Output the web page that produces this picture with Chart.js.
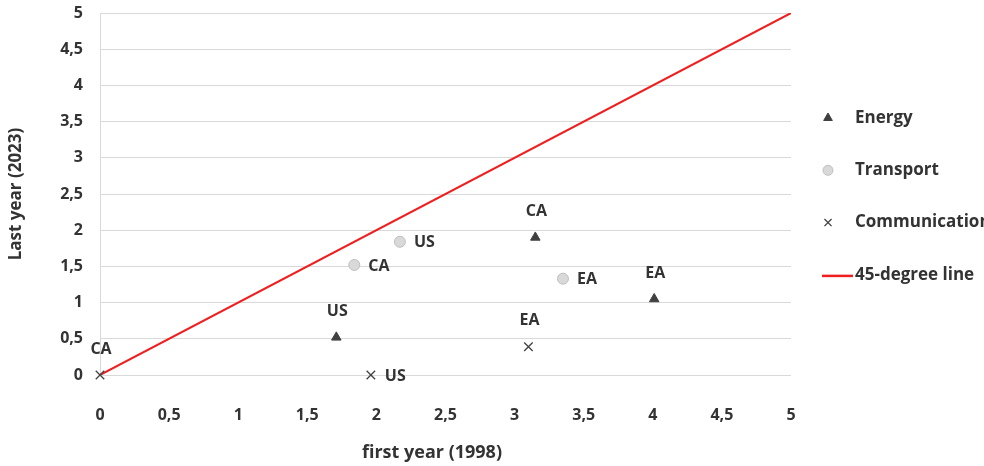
<!DOCTYPE html>
<html lang="en">
<head>
  <meta charset="UTF-8">
  <title>First vs last year</title>
  <script src="https://cdn.jsdelivr.net/npm/chart.js"></script>
  <style>
    body { margin: 0; padding: 0; background: #fff; }
    #wrap { width: 984px; height: 466px; }
  </style>
</head>
<body>
<div id="wrap"><canvas id="scatter"></canvas></div>
<script>
  // data: [first year 1998, last year 2023]
  const regions = ['US', 'CA', 'EA'];
  const energyX = [1.71, 3.15, 4.01];
  const energyY = [0.52, 1.9, 1.05];
  const transportX = [2.17, 1.84, 3.35];
  const transportY = [1.84, 1.52, 1.33];
  const commX = [1.96, 0, 3.1];
  const commY = [0, 0, 0.39];
  const lineX = [0, 5];
  const lineY = [0, 5];
  const axisTicks = [0, 0.5, 1, 1.5, 2, 2.5, 3, 3.5, 4, 4.5, 5];
  const xTitle = 'first year (1998)';

  const FONT = "'Open Sans', sans-serif";
  const TEXT = '#333333';

  function pts(xs, ys) {
    return xs.map((x, i) => ({ x: x, y: ys[i] }));
  }
  function comma(v) {
    return String(v).replace('.', ',');
  }

  // labels next to each marker ('above' or 'right')
  const pointLabels = {
    id: 'pointLabels',
    afterDatasetsDraw(chart) {
      const ctx = chart.ctx;
      ctx.save();
      ctx.font = 'bold 16px ' + FONT;
      ctx.fillStyle = TEXT;
      ctx.textBaseline = 'middle';
      chart.data.datasets.forEach((ds, di) => {
        if (!ds.labelPos) return;
        chart.getDatasetMeta(di).data.forEach((el, i) => {
          const pos = ds.labelPos[i];
          if (pos === 'above') {
            ctx.textAlign = 'center';
            ctx.fillText(regions[i], el.x + 1, el.y - 26);
          } else {
            ctx.textAlign = 'left';
            ctx.fillText(regions[i], el.x + 14, el.y + 1);
          }
        });
      });
      ctx.restore();
    }
  };

  // legend on the right, drawn by hand so the long label can run off the edge
  // (the x title is drawn here too; in the original it sits left of centre)
  const sideLegend = {
    id: 'sideLegend',
    afterDraw(chart) {
      const ctx = chart.ctx;
      const area = chart.chartArea;
      const mx = area.right + 37;
      const tx = area.right + 64;
      const gap = 52.3;
      const y0 = 118;
      ctx.save();
      ctx.font = 'bold 17px ' + FONT;
      ctx.textBaseline = 'middle';
      ctx.textAlign = 'left';
      chart.data.datasets.forEach((ds, i) => {
        const y = y0 + i * gap;
        if (ds.type === 'line') {
          ctx.strokeStyle = ds.borderColor;
          ctx.lineWidth = 2.5;
          ctx.beginPath();
          ctx.moveTo(mx - 6, y + 1);
          ctx.lineTo(tx - 2, y + 1);
          ctx.stroke();
        } else {
          ctx.fillStyle = ds.backgroundColor;
          ctx.strokeStyle = ds.borderColor;
          ctx.lineWidth = ds.borderWidth;
          Chart.helpers.drawPoint(ctx, {
            pointStyle: ds.pointStyle,
            radius: 5,
            borderWidth: ds.borderWidth,
            rotation: 0
          }, mx, y);
        }
        ctx.fillStyle = TEXT;
        ctx.fillText(ds.label, tx, y);
      });

      ctx.font = 'bold 18px ' + FONT;
      ctx.textAlign = 'center';
      ctx.fillText(xTitle, area.left + 332, 453);
      ctx.restore();
    }
  };

  new Chart(document.getElementById('scatter'), {
    type: 'scatter',
    data: {
      datasets: [
        {
          label: 'Energy', data: pts(energyX, energyY),
          pointStyle: 'triangle', pointRadius: 5.5,
          backgroundColor: '#404040', borderColor: '#404040', borderWidth: 1,
          clip: false,
          labelPos: ['above', 'above', 'above']
        },
        {
          label: 'Transport', data: pts(transportX, transportY),
          pointStyle: 'circle', pointRadius: 5.5,
          backgroundColor: '#d9d9d9', borderColor: '#bfbfbf', borderWidth: 1,
          clip: false,
          labelPos: ['right', 'right', 'right']
        },
        {
          label: 'Communication', data: pts(commX, commY),
          pointStyle: 'crossRot', pointRadius: 6,
          backgroundColor: '#404040', borderColor: '#404040', borderWidth: 1.3,
          clip: false,
          labelPos: ['right', 'above', 'above']
        },
        {
          type: 'line', label: '45-degree line', data: pts(lineX, lineY),
          borderColor: '#f01e1e', borderWidth: 2, pointRadius: 0, fill: false
        }
      ]
    },
    options: {
      responsive: true,
      maintainAspectRatio: false,
      animation: false,
      layout: { padding: { top: 13, right: 193, left: 0, bottom: 0 } },
      plugins: {
        legend: { display: false },
        tooltip: { enabled: false }
      },
      scales: {
        x: {
          type: 'linear', min: 0, max: 5,
          afterBuildTicks: s => { s.ticks = axisTicks.map(v => ({ value: v })); },
          afterFit: s => { s.height = 91; s.paddingLeft = 0; s.paddingRight = 0; },
          grid: { display: false },
          border: { display: false },
          ticks: {
            padding: 23, color: TEXT,
            font: { family: FONT, size: 16, weight: 'bold' },
            callback: v => comma(v)
          }
        },
        y: {
          type: 'linear', min: 0, max: 5,
          afterBuildTicks: s => { s.ticks = axisTicks.map(v => ({ value: v })); },
          afterFit: s => { s.width = 100; s.paddingTop = 0; s.paddingBottom = 0; },
          grid: { color: '#d9d9d9', lineWidth: 1, drawTicks: false },
          border: { display: true, color: '#d9d9d9' },
          ticks: {
            padding: 17, color: TEXT,
            font: { family: FONT, size: 16, weight: 'bold' },
            callback: v => comma(v)
          },
          title: {
            display: true, text: 'Last year (2023)', color: TEXT,
            font: { family: FONT, size: 17, weight: 'bold' },
            padding: { top: 6, bottom: 0 }
          }
        }
      }
    },
    plugins: [pointLabels, sideLegend]
  });
</script>
</body>
</html>
